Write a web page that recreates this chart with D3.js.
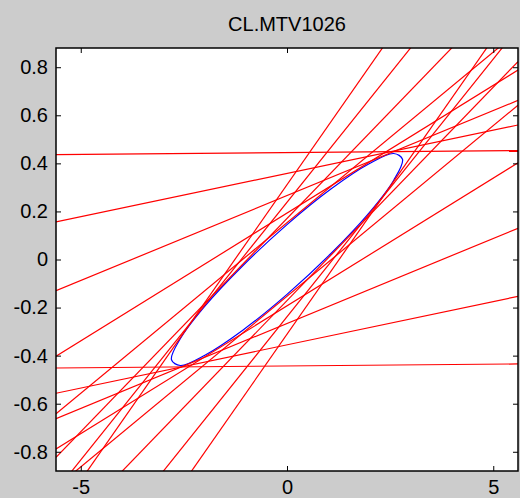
<!DOCTYPE html>
<html>
<head>
<meta charset="utf-8">
<script src="https://cdn.jsdelivr.net/npm/d3@7"></script>
<style>
    body { margin: 0; background: #cccccc; }
    svg { display: block; font-family: "Liberation Sans", Arial, sans-serif; }
    .axis text { font-size: 20px; fill: #000; }
    .axis line { stroke: #000; }
</style>
</head>
<body>
<div class="chart"></div>
<script>
const title = 'CL.MTV1026';

// tangent lines, one slope with an upper and a lower intercept
const slopes = [0.0015, 0.036, 0.0707, 0.1063, 0.142, 0.1776, 0.2144, 0.246];
const upperIntercepts = [0.445, 0.358, 0.266, 0.193, 0.153, 0.171, 0.238, 0.311];
const lowerIntercepts = [-0.443, -0.355, -0.266, -0.193, -0.153, -0.171, -0.238, -0.311];

// ellipse outline
const ellipseX = [2.8, 2.587, 1.98, 1.072, 0, -1.072, -1.98, -2.587,
    -2.8, -2.587, -1.98, -1.072, 0, 1.072, 1.98, 2.587];
const ellipseY = [0.417, 0.441, 0.397, 0.294, 0.145, -0.026, -0.192, -0.33,
    -0.417, -0.441, -0.397, -0.294, -0.145, 0.026, 0.192, 0.33];

const xDomain = [-5.6, 5.6];
const yDomain = [-0.88, 0.88];
const xTicks = [-5, 0, 5];
const xTickLabels = ['-5', '0', '5'];
const yTicks = [-0.8, -0.6, -0.4, -0.2, 0, 0.2, 0.4, 0.6, 0.8];
const yTickLabels = ['-0.8', '-0.6', '-0.4', '-0.2', '0', '0.2', '0.4', '0.6', '0.8'];

const width = 520, height = 498;
const margin = {top: 48, right: 2, bottom: 27, left: 56};
const w = width - margin.left - margin.right,
    h = height - margin.top - margin.bottom;

const x = d3.scaleLinear().domain(xDomain).range([0, w]);
const y = d3.scaleLinear().domain(yDomain).range([h, 0]);

const svg = d3.select('.chart')
    .append('svg')
    .attr('width', width)
    .attr('height', height);

svg.append('text')
    .attr('x', margin.left + w / 2)
    .attr('y', 31)
    .attr('text-anchor', 'middle')
    .style('font-size', '20px')
    .text(title);

const main = svg.append('g')
    .attr('transform', 'translate(' + margin.left + ',' + margin.top + ')');

main.append('rect')
    .attr('width', w)
    .attr('height', h)
    .attr('fill', '#fff');

svg.append('clipPath')
    .attr('id', 'plot')
    .append('rect')
    .attr('width', w)
    .attr('height', h);

const plot = main.append('g').attr('clip-path', 'url(#plot)');

const ellipse = ellipseX.map((d, i) => [d, ellipseY[i]]);
plot.append('path')
    .datum(ellipse)
    .attr('fill', 'none')
    .attr('stroke', '#0000ff')
    .attr('stroke-width', 1.2)
    .attr('d', d3.line()
        .x(d => x(d[0]))
        .y(d => y(d[1]))
        .curve(d3.curveCatmullRomClosed));

const lines = [];
slopes.forEach((m, i) => {
    lines.push({m: m, b: upperIntercepts[i]});
    lines.push({m: m, b: lowerIntercepts[i]});
});

plot.selectAll('line.tangent')
    .data(lines)
    .enter().append('line')
    .attr('class', 'tangent')
    .attr('x1', x(xDomain[0]))
    .attr('x2', x(xDomain[1]))
    .attr('y1', d => y(d.m * xDomain[0] + d.b))
    .attr('y2', d => y(d.m * xDomain[1] + d.b))
    .attr('stroke', '#ff0000')
    .attr('stroke-width', 1.2);

main.append('g')
    .attr('class', 'axis')
    .attr('transform', 'translate(0,' + h + ')')
    .call(d3.axisBottom(x).tickValues(xTicks)
        .tickFormat((d, i) => xTickLabels[i])
        .tickSizeInner(-5).tickSizeOuter(0).tickPadding(9))
    .call(g => g.select('.domain').remove());

main.append('g')
    .attr('class', 'axis')
    .call(d3.axisLeft(y).tickValues(yTicks)
        .tickFormat((d, i) => yTickLabels[i])
        .tickSizeInner(-5).tickSizeOuter(0).tickPadding(8))
    .call(g => g.select('.domain').remove());

main.append('g')
    .attr('class', 'axis')
    .call(d3.axisTop(x).tickValues(xTicks).tickFormat('')
        .tickSizeInner(-5).tickSizeOuter(0))
    .call(g => g.select('.domain').remove());

main.append('g')
    .attr('class', 'axis')
    .attr('transform', 'translate(' + w + ',0)')
    .call(d3.axisRight(y).tickValues(yTicks).tickFormat('')
        .tickSizeInner(-5).tickSizeOuter(0))
    .call(g => g.select('.domain').remove());

main.append('rect')
    .attr('width', w)
    .attr('height', h)
    .attr('fill', 'none')
    .attr('stroke', '#000')
    .attr('stroke-width', 1.5);
</script>
</body>
</html>
